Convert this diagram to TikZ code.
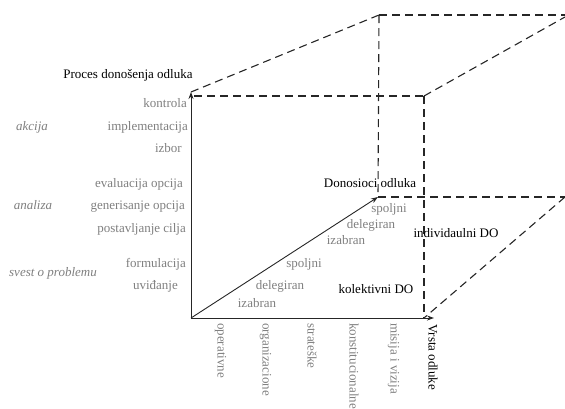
\documentclass[tikz,border=0pt]{standalone}
\usepackage{fontspec}
\setmainfont{Liberation Serif}
\usetikzlibrary{arrows.meta}
\definecolor{lblgray}{HTML}{7F7F7F}
\definecolor{axisdark}{HTML}{262626}
\begin{document}
\begin{tikzpicture}[x=1pt,y=-1pt,
  lbl/.style={inner sep=0pt, text=lblgray, font=\fontsize{13}{15}\selectfont},
  phase/.style={inner sep=0pt, text=lblgray, font=\fontsize{13}{15}\selectfont\itshape},
  head/.style={inner sep=0pt, text=black, font=\fontsize{13}{15}\selectfont},
  axis/.style={draw=axisdark, line width=0.9pt, -{Stealth[length=7pt,width=5pt]}},
  edge/.style={draw=axisdark, line width=1.1pt, dash pattern=on 8pt off 5pt},
  vlbl/.style={lbl, rotate=-90, anchor=mid west}
]
\useasboundingbox (0,0) rectangle (565,408);

% axes of the decision space
\coordinate (O) at (191,318);
\coordinate (Ptop) at (191,92);
\coordinate (Pright) at (434,318);
\coordinate (Pdiag) at (378,197);

% corners of the dashed box
\coordinate (ftl) at (194,96);
\coordinate (ftr) at (424,96);
\coordinate (fbr) at (424,318);
\coordinate (btl) at (379,15);
\coordinate (btr) at (565,15);
\coordinate (btr2) at (565,17);
\coordinate (bbr) at (565,197);

\draw[edge] (Ptop) -- (btl);
\draw[edge] (btl) -- (btr);
\draw[edge] (ftl) -- (ftr);
\draw[edge] (ftr) -- (btr2);
\draw[edge] (btl) -- (Pdiag);
\draw[edge] (Pdiag) -- (bbr);
\draw[edge] (ftr) -- (fbr);
\draw[edge] (bbr) -- (fbr);

\draw[axis] (O) -- (Ptop);
\draw[axis] (O) -- (Pright);
\draw[axis] (O) -- (Pdiag);

% vertical axis: decision process
\node[head, anchor=mid] (tproc) at (128,76) {Proces donošenja odluka};
\node[lbl, anchor=mid east] (kon) at (187,105) {kontrola};
\node[lbl, anchor=mid east] (imp) at (188,128) {implementacija};
\node[lbl, anchor=mid east] (izb) at (182,150) {izbor};
\node[lbl, anchor=mid east] (eva) at (183,185) {evaluacija opcija};
\node[lbl, anchor=mid east] (gen) at (185,207) {generisanje opcija};
\node[lbl, anchor=mid east] (pos) at (186,230) {postavljanje cilja};
\node[lbl, anchor=mid east] (for) at (186,265) {formulacija};
\node[lbl, anchor=mid east] (uvi) at (178,287) {uviđanje};

\node[phase, anchor=mid] (akc) at (32,128) {akcija};
\node[phase, anchor=mid] (ana) at (33,207) {analiza};
\node[phase, anchor=mid] (sve) at (53,274) {svest o problemu};

% depth axis: decision makers
\node[lbl, anchor=mid] (sp1) at (304,265) {spoljni};
\node[lbl, anchor=mid] (de1) at (280,287) {delegiran};
\node[lbl, anchor=mid] (iz1) at (257,305) {izabran};
\node[lbl, anchor=mid] (sp2) at (389,210) {spoljni};
\node[lbl, anchor=mid] (de2) at (371,226) {delegiran};
\node[lbl, anchor=mid] (iz2) at (346,242) {izabran};
\node[head, anchor=mid] (tdon) at (370,185) {Donosioci odluka};
\node[head, anchor=mid] (ind) at (456,235) {individaulni DO};
\node[head, anchor=mid] (kol) at (376,291) {kolektivni DO};

% horizontal axis: decision type
\node[vlbl] (ope) at (220,323) {operativne};
\node[vlbl] (org) at (265,323) {organizacione};
\node[vlbl] (str) at (310,323) {strateške};
\node[vlbl] (kst) at (352,323) {konstitucionalne};
\node[vlbl] (mis) at (393,323) {misija i vizija};
\node[head, rotate=-90, anchor=mid west] (tvrs) at (431,324) {Vrsta odluke};
\end{tikzpicture}
\end{document}
